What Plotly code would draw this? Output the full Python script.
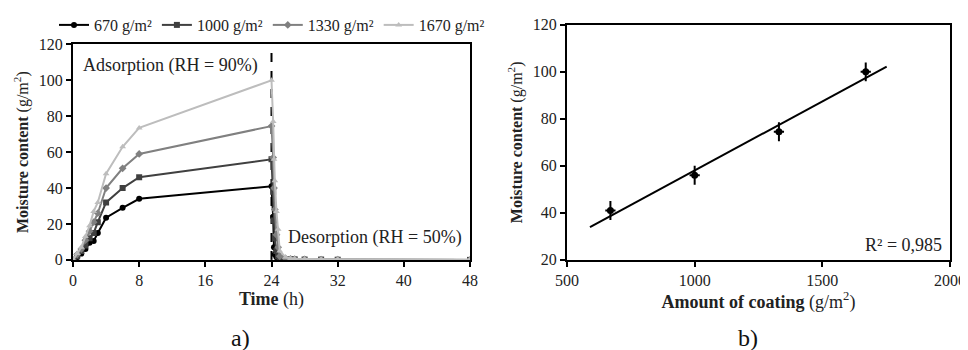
import numpy as np
import plotly.graph_objects as go

# ---- Panel a) data ----
TIME_H = [0, 0.5, 1, 1.5, 2, 2.5, 3, 4, 6, 8, 24, 24.2, 24.3, 24.4, 24.6, 24.8, 25,
          25.7, 26.3, 26.8, 28, 30, 32, 48]
MC_670 = [0, 1.5, 3.5, 6, 9.5, 10.5, 15, 23.5, 29, 34, 41, 24, 7, 3, 1.5, 0.8, 0.5,
          0.3, 0.2, 0.2, 0.2, 0.1, 0.1, 0]
MC_1000 = [0, 2, 5, 8, 12, 15, 21, 32, 40, 46, 56, 38, 22, 12, 5, 2, 1,
           0.5, 0.3, 0.3, 0.2, 0.2, 0.1, 0]
MC_1330 = [0, 3, 6, 11, 16, 21, 26, 40, 51, 59, 74.5, 57, 40, 28, 14, 7, 2,
           0.8, 0.5, 0.4, 0.3, 0.2, 0.2, 0]
MC_1670 = [0, 3.5, 7, 13, 19, 27, 32, 48, 63, 73.5, 100, 77, 56, 44, 27, 17, 5,
           1.5, 0.8, 0.6, 0.5, 0.4, 0.3, 0.2]
SERIES_NAMES = ["670 g/m²", "1000 g/m²", "1330 g/m²", "1670 g/m²"]
SWITCH_TIME = 24

# ---- Panel b) data ----
COATING = [670, 1000, 1330, 1670]
MC_MAX = [41, 56, 74.5, 100]
MC_ERR = [4, 4, 4, 4]
COAT_ERR = [20, 20, 20, 20]
TREND_RANGE = [590, 1752]
R2_TEXT = "R² = 0,985"

FONT = "Times New Roman, Liberation Serif, DejaVu Serif, serif"
OFF = 8            # page body margin
W, H = 968 - OFF, 350 - OFF

def px_x(p):
    return (p - OFF) / W

def px_y(p):
    return 1 - (p - OFF) / H

fig = go.Figure()

colors = ["#000000", "#404040", "#808080", "#bdbdbd"]
symbols = ["circle", "square", "diamond", "triangle-up"]
for name, vals, c, s in zip(SERIES_NAMES, [MC_670, MC_1000, MC_1330, MC_1670], colors, symbols):
    fig.add_trace(go.Scatter(
        x=TIME_H, y=vals, name=name, mode="lines+markers",
        line=dict(color=c, width=2), marker=dict(color=c, symbol=s, size=6),
        xaxis="x", yaxis="y"))

# Panel b
fit = np.polyfit(COATING, MC_MAX, 1)
tx = np.array(TREND_RANGE, dtype=float)
fig.add_trace(go.Scatter(x=tx, y=np.polyval(fit, tx), mode="lines",
                         line=dict(color="black", width=2), showlegend=False,
                         xaxis="x2", yaxis="y2"))
fig.add_trace(go.Scatter(
    x=COATING, y=MC_MAX, mode="markers", showlegend=False,
    marker=dict(color="black", size=7, symbol="circle"),
    error_y=dict(type="data", array=MC_ERR, color="black", thickness=2, width=0),
    error_x=dict(type="data", array=COAT_ERR, color="black", thickness=2, width=0),
    xaxis="x2", yaxis="y2"))

# dashed line at switch time
fig.add_shape(type="line", xref="x", yref="y domain", x0=SWITCH_TIME, x1=SWITCH_TIME,
              y0=0, y1=1, line=dict(color="black", width=2, dash="dash"), layer="below")

TXT = "#222"
axis_common = dict(showline=True, linecolor="black", linewidth=2, mirror=True,
                   ticks="outside", ticklen=5, tickwidth=1.5, tickcolor="black",
                   showgrid=False, zeroline=False,
                   tickfont=dict(family=FONT, size=16, color=TXT),
                   automargin=False)

fig.update_layout(
    width=W, height=H, margin=dict(l=0, r=0, t=0, b=0),
    paper_bgcolor="white", plot_bgcolor="white",
    font=dict(family=FONT, size=16, color=TXT),
    xaxis=dict(domain=[px_x(73), px_x(470)], anchor="y", range=[0, 48],
               tickvals=[0, 8, 16, 24, 32, 40, 48],
               title=dict(text="<b>Time</b> (h)", font=dict(family=FONT, size=18), standoff=2),
               **axis_common),
    yaxis=dict(domain=[px_y(258), px_y(38)], anchor="x", range=[0, 120], dtick=20,
               title=dict(text="<b>Moisture content</b> (g/m<sup>2</sup>)",
                          font=dict(family=FONT, size=16), standoff=6),
               **axis_common),
    xaxis2=dict(domain=[px_x(567), px_x(950)], anchor="y2", range=[500, 2000], dtick=500,
                title=dict(text="<b>Amount of coating</b> (g/m<sup>2</sup>)",
                           font=dict(family=FONT, size=18), standoff=2),
                **axis_common),
    yaxis2=dict(domain=[px_y(258), px_y(18)], anchor="x2", range=[20, 120], dtick=20,
                title=dict(text="<b>Moisture content</b> (g/m<sup>2</sup>)",
                           font=dict(family=FONT, size=16), standoff=6),
                **axis_common),
    legend=dict(orientation="h", x=px_x(272), xanchor="center", y=px_y(18), yanchor="middle",
                font=dict(family=FONT, size=16, color=TXT), bgcolor="rgba(0,0,0,0)",
                itemwidth=30, tracegroupgap=0),
    annotations=[
        dict(text="Adsorption (RH = 90%)", x=1.0, y=108.5, xref="x", yref="y",
             xanchor="left", yanchor="middle", showarrow=False,
             font=dict(family=FONT, size=18, color=TXT)),
        dict(text="Desorption (RH = 50%)", x=25.7, y=12.5, xref="x", yref="y",
             xanchor="left", yanchor="middle", showarrow=False,
             font=dict(family=FONT, size=18, color=TXT)),
        dict(text=R2_TEXT, x=1975, y=26.2, xref="x2", yref="y2",
             xanchor="right", yanchor="middle", showarrow=False,
             font=dict(family=FONT, size=18, color=TXT)),
        dict(text="a)", x=px_x(240), y=px_y(338), xref="paper", yref="paper",
             xanchor="center", yanchor="middle", showarrow=False,
             font=dict(family=FONT, size=24, color="#111")),
        dict(text="b)", x=px_x(748), y=px_y(338), xref="paper", yref="paper",
             xanchor="center", yanchor="middle", showarrow=False,
             font=dict(family=FONT, size=24, color="#111")),
    ],
)

fig.write_html("out.html")
